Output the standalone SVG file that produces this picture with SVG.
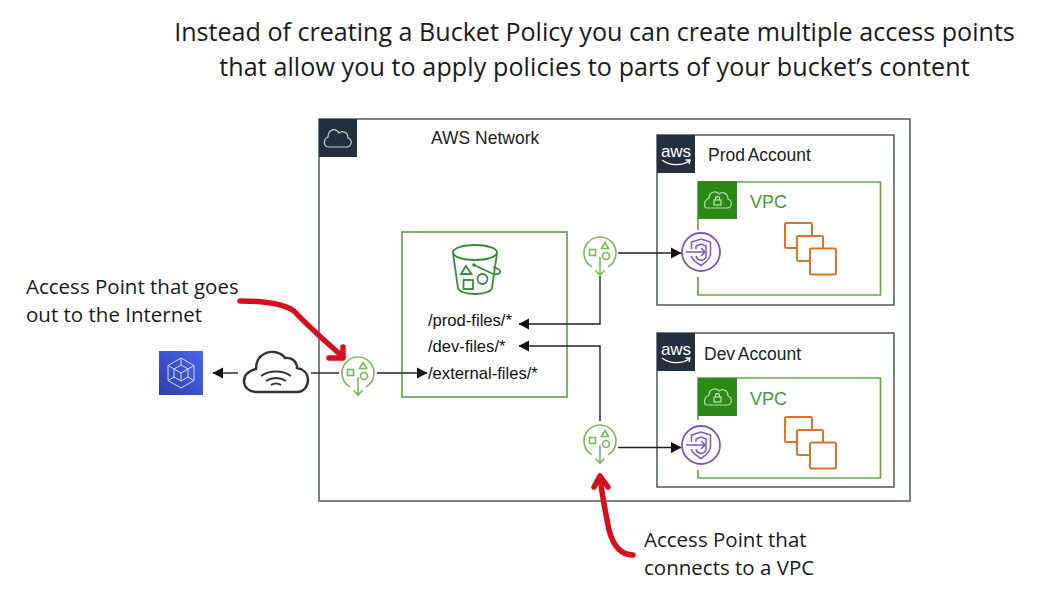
<svg xmlns="http://www.w3.org/2000/svg" width="1043" height="595" viewBox="0 0 1043 595">
<style>
.title{font:25.1px "Open Sans",sans-serif;fill:#1a1a1a;text-anchor:middle}
.note{font:20.5px "Open Sans",sans-serif;fill:#1a1a1a}
.lab{font:17.5px "Liberation Sans",Arial,sans-serif;fill:#222;word-spacing:-1.200px}
.path{font:16.6px "Liberation Sans",Arial,sans-serif;fill:#111}
.vpc{font:18px "Liberation Sans",Arial,sans-serif;fill:#3f9c35}
.box{fill:#fff;stroke:#5a6068;stroke-width:1.600}
.grn{fill:none;stroke:#68a74f;stroke-width:1.700}
.apg{fill:none;stroke:#7ab55c;stroke-width:1.600}
.bg{fill:none;stroke:#3a8a35;stroke-width:1.800}
.org{fill:none;stroke:#d9752a;stroke-width:2}
.pur{fill:none;stroke:#7d55c7;stroke-width:1.500}
.con{fill:none;stroke:#222;stroke-width:1.400}
.red{fill:none;stroke:#d4101f;stroke-width:5.500;stroke-linecap:round;stroke-linejoin:round}
</style>
<defs>
<linearGradient id="blue" x1="0" y1="1" x2="1" y2="0"><stop offset="0" stop-color="#2f3fa8"/><stop offset="1" stop-color="#4b66f0"/></linearGradient>
<marker id="arr" markerUnits="userSpaceOnUse" markerWidth="11" markerHeight="12" refX="10" refY="6" orient="auto"><path d="M0,0.500L10.500,6L0,11.500z" fill="#111"/></marker>
<g id="ap">
<path class="apg" d="M-8,13.900A16,16 0 1 1 8,13.900"/>
<path class="apg" d="M0,4V22M-4.500,17.500L0,22L4.500,17.500"/>
<rect class="apg" x="-10.500" y="-3.500" width="6" height="6"/>
<path class="apg" d="M1.500,-4.500L5,-10.500L8.500,-4.500z"/>
<circle class="apg" cx="6" cy="3" r="3.500"/>
</g>
<g id="endpoint">
<circle cx="0" cy="0" r="19" fill="#fff" stroke="#7d55c7" stroke-width="1.800"/>
<path class="pur" d="M0,-13L9.500,-10V1C9.500,7 4,11 0,13.500C-4,11 -9.500,7 -9.500,4"/>
<path class="pur" d="M-9.500,-3V-10L0,-13"/>
<path class="pur" d="M-5,4C-4,9 3,10 5,5V-6L0,-8L-5,-6V-3"/>
<path class="pur" d="M-15,0H4M0,-4L4,0L0,4"/>
</g>
<g id="instances">
<path class="org" d="M12,25H1.500Q0,25 0,23.500V1.500Q0,0 1.500,0H25.500Q27,0 27,1.500V13"/>
<path class="org" d="M25,38H13.500Q12,38 12,36.500V14.500Q12,13 13.500,13H36.500Q38,13 38,14.500V25"/>
<rect class="org" x="25" y="25.500" width="26" height="26" rx="1.500"/>
</g>
<g id="vpcicon">
<rect x="0" y="0" width="39" height="38" fill="#2b8a14"/>
<path d="M9,27H29C34,27 35,20 30,18C30,12 24,10 21,13C18,9 11,11 11,17C6,19 5,27 9,27z" fill="none" stroke="#b9dcae" stroke-width="1.200"/>
<rect x="16" y="19" width="7" height="5" fill="none" stroke="#cfe8c7" stroke-width="1.100"/>
<path d="M17.500,19V17.500C17.500,15 21.500,15 21.500,17.500V19" fill="none" stroke="#cfe8c7" stroke-width="1.100"/>
</g>
<g id="awsicon">
<rect x="0" y="0" width="38" height="38" fill="#232f3e"/>
<text x="19" y="22" text-anchor="middle" style="font:17px 'Liberation Sans',Arial,sans-serif;fill:#fff">aws</text>
<path d="M5,25C13,31 25,31 32,26M28.500,25L33,25L32,29" fill="none" stroke="#fff" stroke-width="1.300"/>
</g>
</defs>

<rect width="1043" height="595" fill="#fff"/>
<text class="title" x="594.500" y="41">Instead of creating a Bucket Policy you can create multiple access points</text>
<text class="title" x="594.500" y="76" style="letter-spacing:.09px">that allow you to apply policies to parts of your bucket’s content</text>

<g id="aws-network">
<rect class="box" x="319" y="119" width="591" height="382"/>
<rect x="319" y="119" width="38" height="38" fill="#232f3e"/>
<path d="M329,147H346C352,147 353,140 348,138C348,132 342,130 339,133C335,127 328,130 328,137C323,139 323,147 329,147z" fill="none" stroke="#c5ccd3" stroke-width="1.200"/>
<text class="lab" x="431" y="143.500" style="word-spacing:0">AWS Network</text>
</g>

<g id="prod-account">
<rect class="box" x="657" y="135" width="237" height="170"/>
<use href="#awsicon" x="657" y="135"/>
<text class="lab" x="708" y="161">Prod Account</text>
</g>
<g id="prod-vpc">
<path class="grn" d="M698,230V182H880.500V295H698V277"/>
<use href="#vpcicon" x="698" y="181"/>
<text class="vpc" x="750" y="208">VPC</text>
<use href="#instances" x="785" y="223"/>
</g>
<g id="prod-endpoint"><use href="#endpoint" x="701" y="252"/></g>

<g id="dev-account">
<rect class="box" x="657" y="333" width="237" height="154"/>
<use href="#awsicon" x="657" y="333"/>
<text class="lab" x="704" y="360">Dev Account</text>
</g>
<g id="dev-vpc">
<path class="grn" d="M698,420V378H880.500V478H698V470"/>
<use href="#vpcicon" x="698" y="378"/>
<text class="vpc" x="750" y="405">VPC</text>
<use href="#instances" x="785" y="417"/>
</g>
<g id="dev-endpoint"><use href="#endpoint" x="701" y="445"/></g>

<g id="bucket">
<rect class="grn" x="402" y="232" width="165" height="165"/>
<ellipse class="bg" cx="475" cy="252.500" rx="22" ry="7.500"/>
<path class="bg" d="M453,253L458,288C460,296 490,296 492,288L497,253"/>
<path class="bg" d="M474,265L492,273.500C497,275.500 501,273 500,271C499,269 495,267.500 493,267"/>
<circle cx="474" cy="265" r="1.800" fill="#3a8a35"/>
<path class="bg" d="M461,274L466,266L471.500,274z"/>
<rect class="bg" x="463.500" y="280" width="9.500" height="9"/>
<circle class="bg" cx="482.500" cy="279" r="5"/>
<text class="path" x="428" y="326">/prod-files/*</text>
<text class="path" x="428" y="352">/dev-files/*</text>
<text class="path" x="428" y="379">/external-files/*</text>
</g>

<g id="client"><rect x="159" y="351" width="44" height="44" fill="url(#blue)"/>
<path d="M181,358L194,365.500V380.500L181,388L168,380.500V365.500z M181,365L188,369V377L181,381L174,377V369z M181,373V381M181,373L174,369M181,373L188,369M181,358V365M168,365.500L174,369M194,365.500L188,369M168,380.500L174,377M194,380.500L188,377" fill="none" stroke="#d5dbf8" stroke-width="1"/></g>
<g id="internet"><path d="M256,392H297C304,392 308,386 308,380C308,373 303,369 297,368C297,361 291,357 285,358C281,352 271,350 264,354C258,357 256,363 256,369C249,371 244,375 244,381C244,387 249,392 256,392z" fill="#fff" stroke="#2e3338" stroke-width="2.400"/>
<path d="M261,376C269,370 283,370 291,376M266,381C272,377 280,377 286,381M271,385C274,383 278,383 281,385" fill="none" stroke="#2e3338" stroke-width="1.800"/></g>

<g id="ap-internet"><use href="#ap" x="358" y="373"/></g>
<g id="ap-prod"><use href="#ap" x="600" y="253"/></g>
<g id="ap-dev"><use href="#ap" x="600" y="441"/></g>

<g id="connectors">
<path class="con" d="M238,373H213" marker-end="url(#arr)"/>
<path class="con" d="M311,373H339"/>
<path class="con" d="M377,373H427" marker-end="url(#arr)"/>
<path class="con" d="M618,253H681" marker-end="url(#arr)"/>
<path class="con" d="M618,447.500H681" marker-end="url(#arr)"/>
<path class="con" d="M600,276V324H519" marker-end="url(#arr)"/>
<path class="con" d="M600,421V346H519" marker-end="url(#arr)"/>
</g>

<g id="annotations">
<path class="red" d="M240,301C262,301 282,303 294,311C306,324 326,342 342,356M329,358L343,358L343,347"/>
<path class="red" d="M633,555C620,555 613,545 609,530C605,510 602,495 600,477M594,487L600,476L608,487"/>
<text class="note" x="26" y="294">Access Point that goes</text>
<text class="note" x="26" y="322">out to the Internet</text>
<text class="note" x="644" y="547">Access Point that</text>
<text class="note" x="644" y="575">connects to a VPC</text>
</g>
</svg>
